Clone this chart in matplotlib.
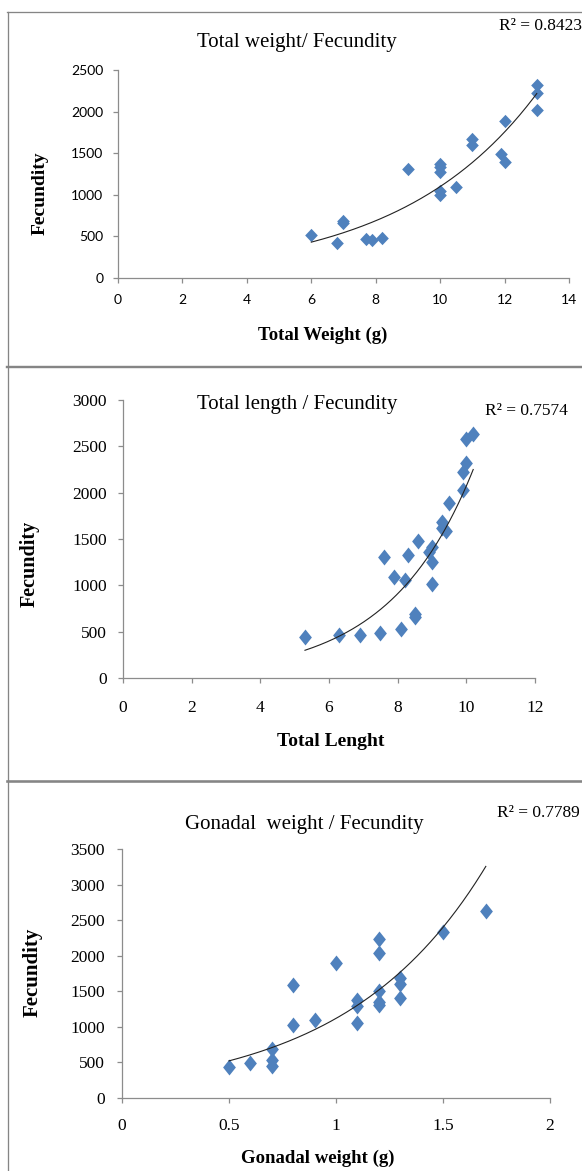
import numpy as np
import matplotlib
matplotlib.use("Agg")
import matplotlib.pyplot as plt
from matplotlib.lines import Line2D
from matplotlib.path import Path

W, H = 582, 1171

# panel 1: total weight (g) vs fecundity
weight = [6, 6.8, 7, 7, 7.7, 7.9, 8.2, 9, 10, 10, 10, 10, 10, 10.5,
          11, 11, 11.9, 12, 12, 13, 13, 13]
fec_w = [520, 425, 660, 690, 470, 460, 480, 1310, 1370, 1330, 1270, 1045, 1000, 1090,
         1670, 1595, 1485, 1400, 1890, 2325, 2220, 2025]

# panel 2: total length vs fecundity
length = [5.3, 6.3, 6.9, 7.5, 7.6, 7.9, 8.1, 8.2, 8.3, 8.5, 8.5, 8.6, 8.9,
          9.0, 9.0, 9.0, 9.3, 9.3, 9.4, 9.5, 9.9, 9.9, 10.0, 10.0, 10.2]
fec_l = [445, 462, 466, 487, 1305, 1085, 527, 1055, 1325, 662, 690, 1483, 1360,
         1418, 1256, 1010, 1680, 1620, 1585, 1885, 2030, 2227, 2320, 2578, 2632]

# panel 3: gonadal weight (g) vs fecundity
gonad = [0.5, 0.6, 0.7, 0.7, 0.7, 0.8, 0.8, 0.9, 1.0, 1.1, 1.1, 1.1,
         1.2, 1.2, 1.2, 1.2, 1.2, 1.3, 1.3, 1.3, 1.5, 1.7]
fec_g = [440, 485, 695, 535, 450, 1590, 1020, 1100, 1893, 1378, 1300, 1055,
         2233, 2034, 1500, 1350, 1305, 1682, 1598, 1405, 2332, 2632]

r2_labels = ["R\u00b2 = 0.8423", "R\u00b2 = 0.7574", "R\u00b2 = 0.7789"]

BLUE = "#4F81BD"
AXC = "#8c8c8c"
SERIF = "Liberation Serif"


def fx(x):
    return x / W


def fy(y):
    return 1 - y / H


def diamond(h_ratio):
    # excel style diamond, a little taller than wide
    return Path([(0, 1), (h_ratio, 0), (0, -1), (-h_ratio, 0), (0, 1)],
                [Path.MOVETO, Path.LINETO, Path.LINETO, Path.LINETO, Path.CLOSEPOLY])


def make_axes(fig, x0, x1, y0, y1):
    ax = fig.add_axes([fx(x0), fy(y0), fx(x1) - fx(x0), fy(y1) - fy(y0)])
    for s in ("top", "right"):
        ax.spines[s].set_visible(False)
    for s in ("left", "bottom"):
        ax.spines[s].set_color(AXC)
        ax.spines[s].set_linewidth(0.9)
    ax.tick_params(colors=AXC, length=3.5, width=0.9, labelcolor="black")
    return ax


def scatter_trend(ax, x, y, mk, ms):
    x = np.array(x, float)
    y = np.array(y, float)
    ax.plot(x, y, linestyle="none", marker=mk, markersize=ms,
            color=BLUE, markeredgewidth=0, zorder=3)
    b, a = np.polyfit(x, np.log(y), 1)
    xs = np.linspace(x.min(), x.max(), 200)
    ax.plot(xs, np.exp(a) * np.exp(b * xs), color="#222222", lw=0.8, zorder=4)


fig = plt.figure(figsize=(W / 100, H / 100), dpi=100)

# panel borders
for (xa, xb, ya, yb, lw) in [(7.5, 7.5, 12, H, 1.3), (7, W, 12, 12, 1.3),
                             (7, W, 367, 367, 2.4), (7, W, 780.5, 780.5, 2.6)]:
    fig.add_artist(Line2D([fx(xa), fx(xb)], [fy(ya), fy(yb)], color="#858585",
                          lw=lw * 0.72, transform=fig.transFigure))

# ---- panel 1
ax1 = make_axes(fig, 118, 569, 278, 70)
scatter_trend(ax1, weight, fec_w, diamond(0.95), 9.6)
ax1.set_xlim(0, 14)
ax1.set_ylim(0, 2500)
ax1.set_xticks(range(0, 15, 2))
ax1.set_yticks(range(0, 2501, 500))
ax1.tick_params(axis="y", pad=7)
ax1.tick_params(axis="x", pad=8)
for lab in ax1.get_xticklabels() + ax1.get_yticklabels():
    lab.set_fontfamily("Lato")
    lab.set_fontsize(10)
fig.text(fx(297), fy(42), "Total weight/ Fecundity", family=SERIF, fontsize=15,
         ha="center", va="center")
fig.text(fx(582), fy(26), r2_labels[0], family=SERIF, fontsize=12.5,
         ha="right", va="center")
fig.text(fx(40), fy(193), "Fecundity", family=SERIF, fontsize=14, weight="bold",
         rotation=90, ha="center", va="center")
fig.text(fx(323), fy(335), "Total Weight (g)", family=SERIF, fontsize=13.5,
         weight="bold", ha="center", va="center")

# ---- panel 2
ax2 = make_axes(fig, 123, 535, 678, 400)
scatter_trend(ax2, length, fec_l, diamond(0.8), 11.5)
ax2.set_xlim(0, 12)
ax2.set_ylim(0, 3000)
ax2.set_xticks(range(0, 13, 2))
ax2.set_yticks(range(0, 3001, 500))
ax2.tick_params(axis="y", pad=8)
ax2.tick_params(axis="x", pad=12)
for lab in ax2.get_xticklabels() + ax2.get_yticklabels():
    lab.set_fontfamily(SERIF)
    lab.set_fontsize(12.5)
fig.text(fx(297), fy(405), "Total length / Fecundity", family=SERIF, fontsize=15,
         ha="center", va="center")
fig.text(fx(526), fy(411), r2_labels[1], family=SERIF, fontsize=12.5,
         ha="center", va="center")
fig.text(fx(30), fy(564), "Fecundity", family=SERIF, fontsize=14.5, weight="bold",
         rotation=90, ha="center", va="center")
fig.text(fx(331), fy(742), "Total Lenght", family=SERIF, fontsize=14,
         weight="bold", ha="center", va="center")

# ---- panel 3
ax3 = make_axes(fig, 122, 550, 1098, 849)
scatter_trend(ax3, gonad, fec_g, diamond(0.8), 11.5)
ax3.set_xlim(0, 2)
ax3.set_ylim(0, 3500)
ax3.set_xticks([0, 0.5, 1, 1.5, 2])
ax3.set_xticklabels(["0", "0.5", "1", "1.5", "2"])
ax3.set_yticks(range(0, 3501, 500))
ax3.tick_params(axis="y", pad=9)
ax3.tick_params(axis="x", pad=11)
for lab in ax3.get_xticklabels() + ax3.get_yticklabels():
    lab.set_fontfamily(SERIF)
    lab.set_fontsize(12.5)
fig.text(fx(304), fy(825), "Gonadal  weight / Fecundity", family=SERIF, fontsize=15,
         ha="center", va="center")
fig.text(fx(538), fy(813), r2_labels[2], family=SERIF, fontsize=12.5,
         ha="center", va="center")
fig.text(fx(33), fy(972), "Fecundity", family=SERIF, fontsize=15, weight="bold",
         rotation=90, ha="center", va="center")
fig.text(fx(318), fy(1158), "Gonadal weight (g)", family=SERIF, fontsize=13.5,
         weight="bold", ha="center", va="center")

fig.savefig("out.png", dpi=100)
